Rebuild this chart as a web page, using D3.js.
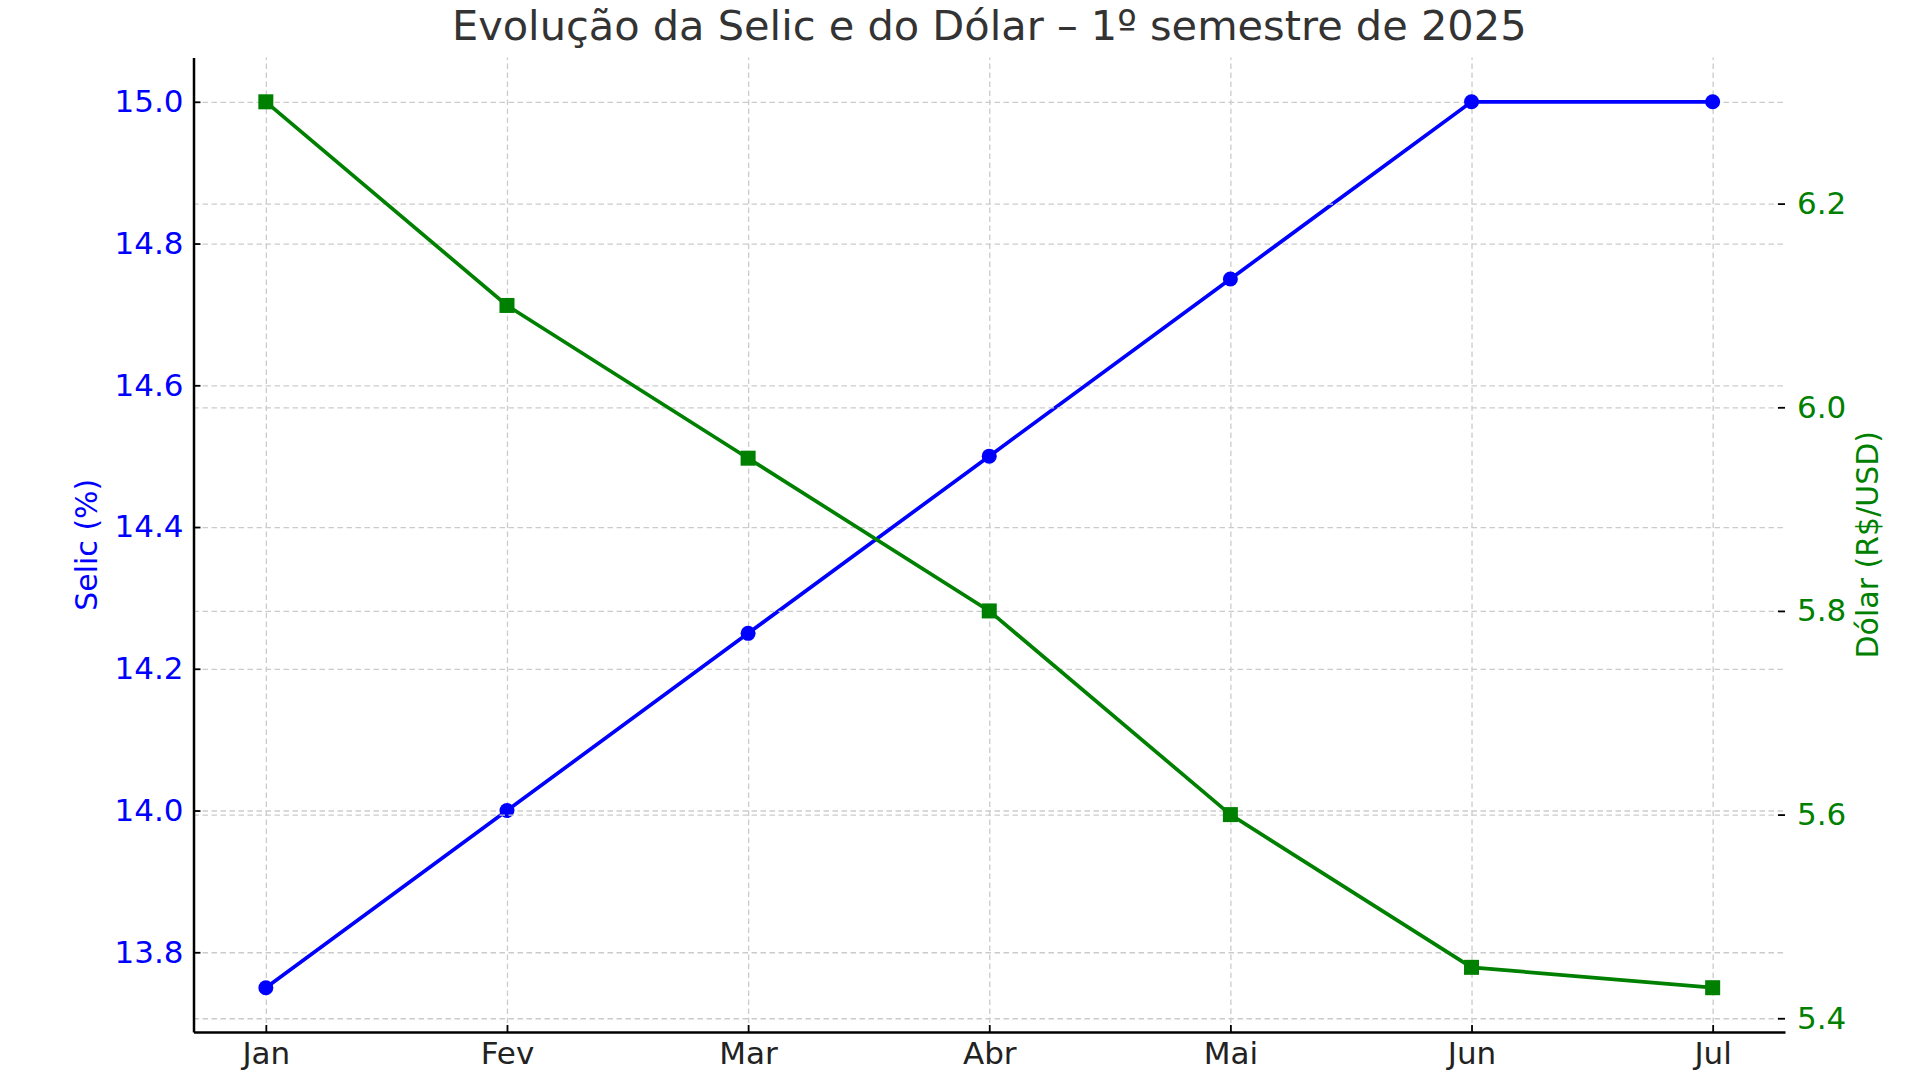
<!DOCTYPE html>
<html>
<head>
<meta charset="utf-8">
<script src="https://cdn.jsdelivr.net/npm/d3@7"></script>
<style>
  body { margin: 0; background: #fff; }
  text { font-family: "DejaVu Sans", sans-serif; }
  .grid line { stroke: #cbcbcb; stroke-width: 1.3; stroke-dasharray: 5.5,3.5; }
  .grid .domain { display: none; }
</style>
</head>
<body>
<svg id="chart" width="1920" height="1080"></svg>
<script>
'use strict'

// dados
var months = ['Jan','Fev','Mar','Abr','Mai','Jun','Jul']
var selic  = [13.75, 14.0, 14.25, 14.5, 14.75, 15.0, 15.0]
var dolar  = [6.30, 6.10, 5.95, 5.80, 5.60, 5.45, 5.43]
var selicTicks = [13.8, 14.0, 14.2, 14.4, 14.6, 14.8, 15.0]
var dolarTicks = [5.4, 5.6, 5.8, 6.0, 6.2]

var svg = d3.select("#chart"),
    margin = {top: 57.5, right: 135, bottom: 48, left: 193.5},
    width = svg.attr("width") - margin.left - margin.right,
    height = svg.attr("height") - margin.top - margin.bottom;

var blue = '#0000ff', green = '#008000'

var x = d3.scalePoint()
    .domain(months)
    .range([0, width])
    .padding(0.3)

// margem de 5% como no matplotlib
function padded(vals) {
  let e = d3.extent(vals), m = (e[1] - e[0]) * 0.05
  return [e[0] - m, e[1] + m]
}

var yL = d3.scaleLinear().domain(padded(selic)).range([height, 0])
var yR = d3.scaleLinear().domain(padded(dolar)).range([height, 0])

var g = svg.append("g")
    .attr("transform", "translate(" + margin.left + "," + margin.top + ")");

// grades
g.append("g").attr("class", "grid")
    .attr("transform", "translate(0," + height + ")")
    .call(d3.axisBottom(x).tickSize(-height).tickFormat(''))
g.append("g").attr("class", "grid")
    .call(d3.axisLeft(yL).tickValues(selicTicks).tickSize(-width).tickFormat(''))

// linha Selic
g.append("path")
    .datum(selic)
    .attr("fill", "none")
    .attr("stroke", blue)
    .attr("stroke-width", 3.7)
    .attr("d", d3.line().x((d, i) => x(months[i])).y(d => yL(d)))

g.selectAll("circle.selic")
  .data(selic)
  .enter().append("circle")
    .attr("class", "selic")
    .attr("cx", (d, i) => x(months[i]))
    .attr("cy", d => yL(d))
    .attr("r", 7.5)
    .attr("fill", blue)

// eixo direito (twinx) desenhado por cima
g.append("g").attr("class", "grid")
    .call(d3.axisLeft(yR).tickValues(dolarTicks).tickSize(-width).tickFormat(''))

g.append("path")
    .datum(dolar)
    .attr("fill", "none")
    .attr("stroke", green)
    .attr("stroke-width", 3.7)
    .attr("d", d3.line().x((d, i) => x(months[i])).y(d => yR(d)))

g.selectAll("rect.dolar")
  .data(dolar)
  .enter().append("rect")
    .attr("class", "dolar")
    .attr("x", (d, i) => x(months[i]) - 7.5)
    .attr("y", d => yR(d) - 7.5)
    .attr("width", 15)
    .attr("height", 15)
    .attr("fill", green)

// eixos (ticks para dentro)
function styleAxis(sel, color) {
  sel.selectAll(".tick line").attr("stroke", "#000").attr("stroke-width", 1.8)
  sel.selectAll(".tick text").attr("fill", color).style("font-size", "31px")
}

var xAxis = g.append("g")
    .attr("transform", "translate(0," + height + ")")
    .call(d3.axisBottom(x).tickSizeInner(-7).tickSizeOuter(0).tickPadding(10))
xAxis.select(".domain").attr("stroke", "#000").attr("stroke-width", 2.5)
styleAxis(xAxis, "#222")

var lAxis = g.append("g")
    .call(d3.axisLeft(yL).tickValues(selicTicks).tickFormat(d3.format('.1f'))
      .tickSizeInner(-7).tickSizeOuter(0).tickPadding(10))
lAxis.select(".domain").attr("stroke", "#000").attr("stroke-width", 2.5)
styleAxis(lAxis, blue)

var rAxis = g.append("g")
    .attr("transform", "translate(" + width + ",0)")
    .call(d3.axisRight(yR).tickValues(dolarTicks).tickFormat(d3.format('.1f'))
      .tickSizeInner(-7).tickSizeOuter(0).tickPadding(12))
rAxis.select(".domain").remove()
styleAxis(rAxis, green)

// rótulos dos eixos
svg.append("text")
    .attr("transform", "translate(86," + (margin.top + height / 2) + ") rotate(-90)")
    .attr("text-anchor", "middle")
    .attr("dominant-baseline", "central")
    .attr("fill", blue)
    .style("font-size", "30px")
    .text("Selic (%)")

svg.append("text")
    .attr("transform", "translate(1867," + (margin.top + height / 2) + ") rotate(-90)")
    .attr("text-anchor", "middle")
    .attr("dominant-baseline", "central")
    .attr("fill", green)
    .style("font-size", "30px")
    .text("Dólar (R$/USD)")

// título
var title = svg.append("text")
    .attr("x", margin.left + width / 2)
    .attr("y", 40)
    .attr("text-anchor", "middle")
    .attr("fill", "#333")
    .style("font-size", "36px")
    .text("Evolução da Selic e do Dólar – 1º semestre de 2025")
var tw = title.node().getComputedTextLength()
title.style("font-size", (36 * 1075 / tw) + "px")
</script>
</body>
</html>
